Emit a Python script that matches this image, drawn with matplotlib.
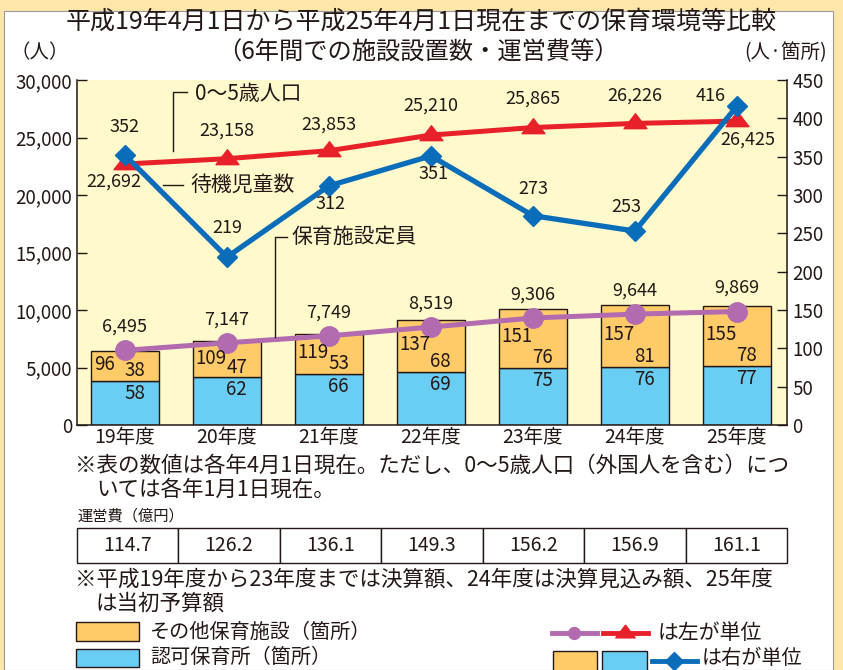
import matplotlib
matplotlib.use('Agg')
import matplotlib.pyplot as plt
from matplotlib.patches import Rectangle
from matplotlib.lines import Line2D
from matplotlib.path import Path
import numpy as np

plt.rcParams['font.family'] = ['Noto Sans CJK JP', 'DejaVu Sans']

# data
years = ['19年度', '20年度', '21年度', '22年度', '23年度', '24年度', '25年度']
ninka = [58, 62, 66, 69, 75, 76, 77]            # 認可保育所（箇所）
sonota = [38, 47, 53, 68, 76, 81, 78]           # その他保育施設（箇所）
teiin = [6495, 7147, 7749, 8519, 9306, 9644, 9869]          # 保育施設定員
jinko = [22692, 23158, 23853, 25210, 25865, 26226, 26425]   # 0～5歳人口
taiki = [352, 219, 312, 351, 273, 253, 416]                 # 待機児童数
unei = [114.7, 126.2, 136.1, 149.3, 156.2, 156.9, 161.1]    # 運営費（億円）

left_ticks = list(range(0, 30001, 5000))
right_ticks = list(range(0, 451, 50))

INK = '#231815'
ORANGE = '#FFCB69'
SKY = '#6ACDF4'
PURPLE = '#B36BB0'
RED = '#E8202A'
BLUE = '#0A6DBA'
PLOT_BG = '#FFF9CC'
PAGE = '#FCE7A8'

W, H = 843, 670


def px(x0, y0, x1, y1):
    # pixel box (top-left origin) -> figure fraction rect
    return [x0 / W, 1 - y1 / H, (x1 - x0) / W, (y1 - y0) / H]


fig = plt.figure(figsize=(W / 100, H / 100), dpi=100)
fig.patch.set_facecolor(PAGE)
fig.add_artist(Rectangle((4 / W, 0), 829 / W, (H - 11) / H, transform=fig.transFigure,
                         facecolor='white', edgecolor='#9a9a9a', lw=0.8, zorder=-1))

x = np.arange(len(years))
totals = [a + b for a, b in zip(ninka, sonota)]

# three stacked axes: bars (right scale) / lines (left scale) / blue line (right scale)
ax = fig.add_axes(px(77, 80, 787, 425))
axb = ax.twinx()
axr = ax.twinx()
axb.set_zorder(0)
ax.set_zorder(1)
axr.set_zorder(2)
ax.patch.set_visible(False)
axb.patch.set_visible(True)
axb.patch.set_facecolor(PLOT_BG)

ax.set_xlim(-0.47, 6.49)
ax.set_ylim(0, 30000)
axb.set_ylim(0, 450)
axr.set_ylim(0, 450)

for a in (axb, axr):
    for s in a.spines.values():
        s.set_visible(False)
ax.spines['top'].set_visible(False)
for s in ('left', 'right', 'bottom'):
    ax.spines[s].set_color(INK)
    ax.spines[s].set_linewidth(1.1)

ax.set_yticks(left_ticks)
ax.set_yticklabels([f'{v:,}' for v in left_ticks])
ax.tick_params(axis='y', direction='in', length=7, width=1, labelsize=13.5, pad=3.5,
               colors=INK)
ax.set_xticks(x)
ax.set_xticklabels(years)
ax.tick_params(axis='x', length=0, labelsize=14, pad=1.5, colors=INK)
axb.yaxis.set_visible(False)
axr.set_yticks(right_ticks)
axr.tick_params(axis='y', direction='in', length=7, width=1, labelsize=13.5, pad=4,
                colors=INK)

# stacked bars (labels go on the top axes so the lines never hide them)
bw = 0.667
axb.bar(x, ninka, bw, color=SKY, edgecolor=INK, lw=1)
axb.bar(x, sonota, bw, bottom=ninka, color=ORANGE, edgecolor=INK, lw=1)
for i in range(len(x)):
    axr.annotate(str(totals[i]), (i - bw / 2, ninka[i] + sonota[i] / 2), xytext=(2, 1),
                 textcoords='offset points', ha='left', va='center', fontsize=13.5, color=INK)
    axr.annotate(str(sonota[i]), (i, ninka[i]), xytext=(7, 7.5),
                 textcoords='offset points', ha='center', va='center', fontsize=13.5, color=INK)
    axr.annotate(str(ninka[i]), (i, ninka[i]), xytext=(7, -9),
                 textcoords='offset points', ha='center', va='center', fontsize=13.5, color=INK)

# left-scale lines
tri = Path([(-1, -0.45), (1, -0.45), (0, 0.85), (-1, -0.45)],
           [Path.MOVETO, Path.LINETO, Path.LINETO, Path.CLOSEPOLY])
ax.plot(x, teiin, color=PURPLE, lw=3.6, marker='o', ms=14, zorder=3)
ax.plot(x, jinko, color=RED, lw=3.6, marker=tri, ms=16.5, zorder=4)
for i, v in enumerate(teiin):
    ax.annotate(f'{v:,}', (i, v), xytext=(0, 17), textcoords='offset points',
                ha='center', va='center', fontsize=13, color=INK, zorder=6)
red_off = [(-8, -13), (0, 20), (0, 19), (0, 21), (0, 21), (0, 20), (8, -13)]
for i, v in enumerate(jinko):
    ax.annotate(f'{v:,}', (i, v), xytext=red_off[i], textcoords='offset points',
                ha='center', va='center', fontsize=13, color=INK, zorder=6)

# right-scale line
axr.plot(x, taiki, color=BLUE, lw=3.8, marker='D', ms=10.5, zorder=3)
blue_off = [(0, 20), (0, 21), (1, -13), (2, -13), (0, 19), (-6, 17), (-19, 7)]
for i, v in enumerate(taiki):
    axr.annotate(str(v), (i, v), xytext=blue_off[i], textcoords='offset points',
                 ha='center', va='center', fontsize=13, color=INK, zorder=6)

# table of 運営費
tax = fig.add_axes(px(77, 528, 787, 563))
tax.axis('off')
tbl = tax.table(cellText=[[f'{v}' for v in unei]], cellLoc='center', bbox=[0, 0, 1, 1])
tbl.auto_set_font_size(False)
for cell in tbl.get_celld().values():
    cell.set_edgecolor(INK)
    cell.set_linewidth(1)
    cell.get_text().set_fontsize(14)
    cell.get_text().set_color(INK)

# overlay for titles, notes, leaders and legend (pixel coords)
ov = fig.add_axes([0, 0, 1, 1])
ov.set_xlim(0, W)
ov.set_ylim(H, 0)
ov.axis('off')
ov.set_zorder(5)

ov.text(421, 22, '平成19年4月1日から平成25年4月1日現在までの保育環境等比較',
        ha='center', va='center', fontsize=18, color=INK)
ov.text(418, 53, '（6年間での施設設置数・運営費等）', ha='center', va='center',
        fontsize=17.5, color=INK)
ov.text(40, 53, '（人）', ha='center', va='center', fontsize=14, color=INK)
ov.text(786, 53, '(人·箇所)', ha='center', va='center', fontsize=14, color=INK)

# series leaders
ov.plot([173, 173, 187], [151, 92, 92], color=INK, lw=1)
ov.text(195, 94, '0～5歳人口', ha='left', va='center', fontsize=15, color=INK)
ov.plot([163, 183], [185, 185], color=INK, lw=1)
ov.text(190, 185, '待機児童数', ha='left', va='center', fontsize=15, color=INK)
ov.plot([275, 275, 287], [337, 237, 237], color=INK, lw=1)
ov.text(292, 237, '保育施設定員', ha='left', va='center', fontsize=15, color=INK)

# notes
ov.text(75, 466, '※表の数値は各年4月1日現在。ただし、0～5歳人口（外国人を含む）につ',
        ha='left', va='center', fontsize=15.5, color=INK)
ov.text(96, 490, 'いては各年1月1日現在。', ha='left', va='center', fontsize=15.5, color=INK)
ov.text(77, 516, '運営費（億円）', ha='left', va='center', fontsize=11, color=INK)
ov.text(75, 580, '※平成19年度から23年度までは決算額、24年度は決算見込み額、25年度',
        ha='left', va='center', fontsize=15.5, color=INK)
ov.text(96, 604, 'は当初予算額', ha='left', va='center', fontsize=15.5, color=INK)

# legend
ov.add_patch(Rectangle((76, 622), 63, 19, facecolor=ORANGE, edgecolor=INK, lw=1))
ov.add_patch(Rectangle((76, 649), 63, 18, facecolor=SKY, edgecolor=INK, lw=1))
ov.text(150, 632, 'その他保育施設（箇所）', ha='left', va='center', fontsize=14.5, color=INK)
ov.text(150, 657, '認可保育所（箇所）', ha='left', va='center', fontsize=14.5, color=INK)

ov.add_line(Line2D([552, 597], [633, 633], color=PURPLE, lw=3.5))
ov.add_line(Line2D([574], [633], color=PURPLE, marker='o', ms=8.5))
ov.add_line(Line2D([603, 648], [633, 633], color=RED, lw=3.5))
ov.add_line(Line2D([625], [633], color=RED, marker=tri, ms=14))
ov.text(658, 633, 'は左が単位', ha='left', va='center', fontsize=15, color=INK)

ov.add_patch(Rectangle((553, 651), 44, 22, facecolor=ORANGE, edgecolor=INK, lw=1))
ov.add_patch(Rectangle((602, 651), 45, 22, facecolor=SKY, edgecolor=INK, lw=1))
ov.add_line(Line2D([652, 697], [661, 661], color=BLUE, lw=3.5))
ov.add_line(Line2D([674], [661], color=BLUE, marker='D', ms=9))
ov.text(702, 658, 'は右が単位', ha='left', va='center', fontsize=14.5, color=INK)

fig.savefig('out.png', dpi=100, facecolor=PAGE)
